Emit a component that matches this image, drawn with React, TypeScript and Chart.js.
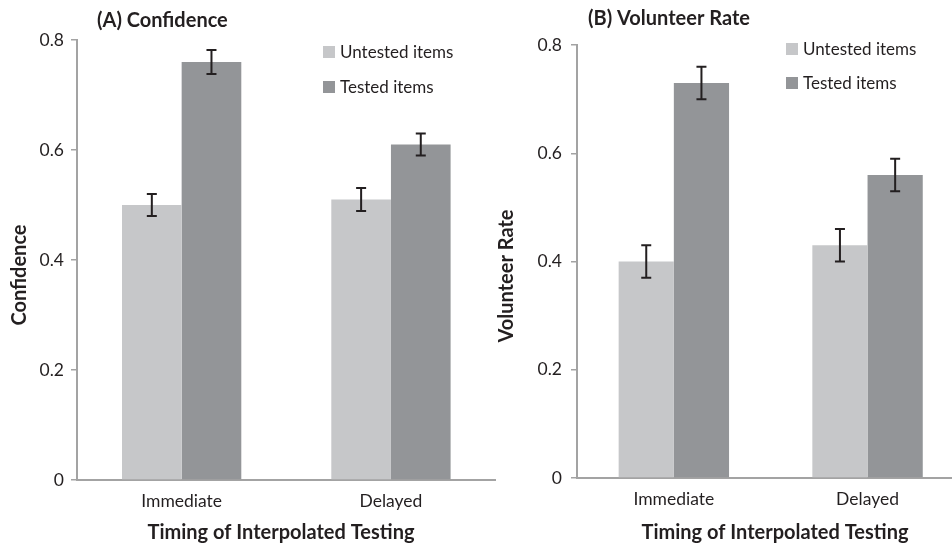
import React, { useEffect, useRef } from "react";
import { Chart, registerables } from "chart.js";

Chart.register(...registerables);

// ---------- data ----------
const categories = ["Immediate", "Delayed"];
const seriesNames = ["Untested items", "Tested items"];

const confidenceUntested = [0.5, 0.51];
const confidenceUntestedErr = [0.02, 0.021];
const confidenceTested = [0.76, 0.61];
const confidenceTestedErr = [0.022, 0.02];

const volunteerUntested = [0.4, 0.43];
const volunteerUntestedErr = [0.03, 0.03];
const volunteerTested = [0.73, 0.56];
const volunteerTestedErr = [0.03, 0.03];

const yMin = 0;
const yMax = 0.8;
const yStep = 0.2;

const xAxisTitle = "Timing of Interpolated Testing";

// ---------- styles ----------
const COLORS = ["#c6c7c9", "#939598"];
const AXIS = "#a3a3a3";
const TEXT = "#231f20";
const FONT = "Lato, 'Open Sans', sans-serif";

const errorBarPlugin = {
  id: "errorBars",
  afterDatasetsDraw(chart: any) {
    const ctx = chart.ctx;
    const y = chart.scales.y;
    ctx.save();
    ctx.strokeStyle = TEXT;
    ctx.lineWidth = 2;
    chart.data.datasets.forEach((ds: any, i: number) => {
      const meta = chart.getDatasetMeta(i);
      meta.data.forEach((bar: any, j: number) => {
        const v = ds.data[j];
        const e = ds.errors[j];
        const top = y.getPixelForValue(v + e);
        const bot = y.getPixelForValue(v - e);
        const x = bar.x;
        const cap = 5;
        ctx.beginPath();
        ctx.moveTo(x, top);
        ctx.lineTo(x, bot);
        ctx.moveTo(x - cap, top);
        ctx.lineTo(x + cap, top);
        ctx.moveTo(x - cap, bot);
        ctx.lineTo(x + cap, bot);
        ctx.stroke();
      });
    });
    ctx.restore();
  },
};

const panelTextPlugin = {
  id: "panelText",
  afterDraw(chart: any, _args: any, opts: any) {
    const ctx = chart.ctx;
    ctx.save();
    ctx.fillStyle = TEXT;
    ctx.font = `bold 20px ${FONT}`;
    ctx.textBaseline = "middle";
    // panel title
    ctx.textAlign = "left";
    ctx.fillText(opts.title, opts.titleX, opts.titleY);
    // x axis title
    ctx.textAlign = "center";
    ctx.fillText(opts.xTitle, opts.xTitleX, opts.xTitleY);
    // y axis title (rotated)
    ctx.save();
    ctx.translate(opts.yTitleX, opts.yTitleY);
    ctx.rotate(-Math.PI / 2);
    ctx.fillText(opts.yTitle, 0, 0);
    ctx.restore();
    // legend
    ctx.textAlign = "left";
    ctx.font = `17px ${FONT}`;
    chart.data.datasets.forEach((ds: any, i: number) => {
      const cy = opts.legendY + i * opts.legendGap;
      ctx.fillStyle = ds.backgroundColor;
      ctx.fillRect(opts.legendX, cy - 6, 12, 12);
      ctx.fillStyle = TEXT;
      ctx.fillText(ds.label, opts.legendX + 17, cy + 1);
    });
    ctx.restore();
  },
};

function makeConfig(p: any) {
  return {
    type: "bar",
    data: {
      labels: categories,
      datasets: [
        {
          label: seriesNames[0],
          data: p.untested,
          errors: p.untestedErr,
          backgroundColor: COLORS[0],
          categoryPercentage: 0.57,
          barPercentage: 1.0,
        },
        {
          label: seriesNames[1],
          data: p.tested,
          errors: p.testedErr,
          backgroundColor: COLORS[1],
          categoryPercentage: 0.57,
          barPercentage: 1.0,
        },
      ],
    },
    options: {
      responsive: false,
      animation: false,
      devicePixelRatio: 1,
      layout: {
        padding: { left: 0, right: p.padRight, top: p.padTop, bottom: 0 },
      },
      plugins: {
        legend: { display: false },
        tooltip: { enabled: false },
        title: { display: false },
        panelText: {
          title: p.title,
          titleX: p.titleX,
          titleY: p.titleY,
          xTitle: xAxisTitle,
          xTitleX: p.xTitleX,
          xTitleY: p.xTitleY,
          yTitle: p.yTitle,
          yTitleX: p.yTitleX,
          yTitleY: p.yTitleY,
          legendX: p.legendX,
          legendY: p.legendY,
          legendGap: p.legendGap,
        },
      },
      scales: {
        x: {
          afterFit: (s: any) => {
            s.height = p.xHeight;
          },
          grid: { display: false, drawTicks: false },
          border: { display: true, color: AXIS, width: 2 },
          ticks: {
            color: TEXT,
            font: { family: FONT, size: 17.5 },
            padding: p.xTickPad,
          },
        },
        y: {
          min: yMin,
          max: yMax,
          afterFit: (s: any) => {
            s.width = p.yWidth;
          },
          grid: {
            display: true,
            drawOnChartArea: false,
            drawTicks: true,
            tickLength: 6,
            color: AXIS,
            lineWidth: 1.5,
          },
          border: { display: true, color: AXIS, width: 2 },
          ticks: {
            stepSize: yStep,
            color: TEXT,
            font: { family: FONT, size: 17.5 },
            padding: p.yTickPad,
            callback: (v: number) => (v === 0 ? "0" : v.toFixed(1)),
          },
        },
      },
    },
    plugins: [errorBarPlugin, panelTextPlugin],
  };
}

const panelA = {
  title: "(A) Confidence",
  yTitle: "Confidence",
  untested: confidenceUntested,
  untestedErr: confidenceUntestedErr,
  tested: confidenceTested,
  testedErr: confidenceTestedErr,
  padRight: 4.4,
  padTop: 40,
  xHeight: 65,
  yWidth: 77,
  xTickPad: 11,
  yTickPad: 7,
  titleX: 97,
  titleY: 21,
  xTitleX: 281,
  xTitleY: 533,
  yTitleX: 20,
  yTitleY: 275,
  legendX: 323,
  legendY: 52,
  legendGap: 35,
};

const panelB = {
  title: "(B) Volunteer Rate",
  yTitle: "Volunteer Rate",
  untested: volunteerUntested,
  untestedErr: volunteerUntestedErr,
  tested: volunteerTested,
  testedErr: volunteerTestedErr,
  padRight: 15.6,
  padTop: 45,
  xHeight: 67,
  yWidth: 97,
  xTickPad: 11,
  yTickPad: 9,
  titleX: 108,
  titleY: 19,
  xTitleX: 295,
  xTitleY: 533,
  yTitleX: 27,
  yTitleY: 276,
  legendX: 306,
  legendY: 49,
  legendGap: 34,
};

function Panel({ cfg, left }: { cfg: any; left: number }) {
  const ref = useRef<HTMLCanvasElement>(null);
  useEffect(() => {
    if (!ref.current) return;
    const chart = new Chart(ref.current, makeConfig(cfg) as any);
    return () => chart.destroy();
  }, [cfg]);
  return (
    <canvas
      ref={ref}
      width={500}
      height={545}
      style={{ position: "absolute", left, top: 0, width: 500, height: 545 }}
    />
  );
}

export default function App() {
  return (
    <div
      style={{
        position: "fixed",
        left: 0,
        top: 0,
        width: 952,
        height: 545,
        overflow: "hidden",
        background: "#fff",
      }}
    >
      <Panel cfg={panelA} left={0} />
      <Panel cfg={panelB} left={480} />
    </div>
  );
}
